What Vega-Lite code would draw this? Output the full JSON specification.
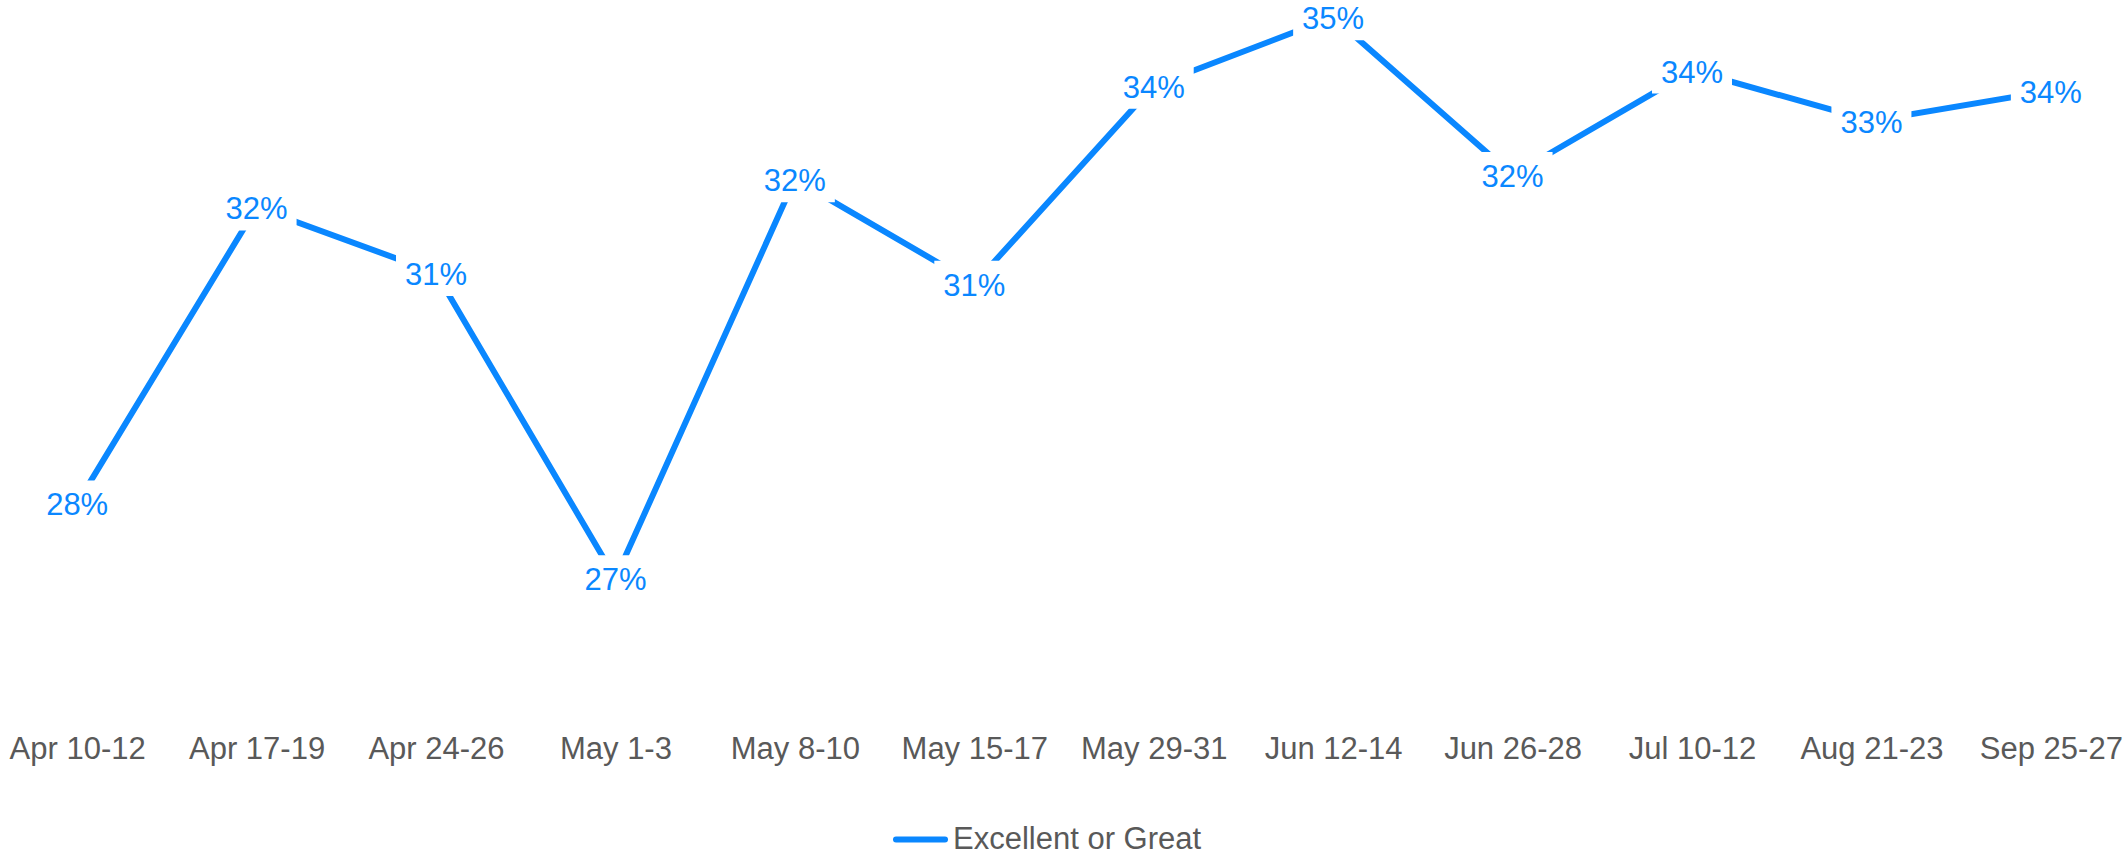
{
  "$schema": "https://vega.github.io/schema/vega-lite/v6.json",
  "width": 2128,
  "height": 700,
  "autosize": {"type": "none"},
  "padding": {"left": 0, "top": 0, "right": 0, "bottom": 151},
  "background": "white",
  "data": {
    "values": [
      {"week": "Apr 10-12", "value": 0.2787, "series": "Excellent or Great"},
      {"week": "Apr 17-19", "value": 0.3198, "series": "Excellent or Great"},
      {"week": "Apr 24-26", "value": 0.3107, "series": "Excellent or Great"},
      {"week": "May 1-3", "value": 0.2683, "series": "Excellent or Great"},
      {"week": "May 8-10", "value": 0.3237, "series": "Excellent or Great"},
      {"week": "May 15-17", "value": 0.3092, "series": "Excellent or Great"},
      {"week": "May 29-31", "value": 0.3367, "series": "Excellent or Great"},
      {"week": "Jun 12-14", "value": 0.3462, "series": "Excellent or Great"},
      {"week": "Jun 26-28", "value": 0.3243, "series": "Excellent or Great"},
      {"week": "Jul 10-12", "value": 0.3388, "series": "Excellent or Great"},
      {"week": "Aug 21-23", "value": 0.3318, "series": "Excellent or Great"},
      {"week": "Sep 25-27", "value": 0.3360, "series": "Excellent or Great"}
    ]
  },
  "encoding": {
    "x": {
      "field": "week",
      "type": "ordinal",
      "sort": null,
      "scale": {"type": "point", "padding": 0.43},
      "axis": {
        "title": null,
        "labelAngle": 0,
        "labelFont": "Liberation Sans",
        "labelFontSize": 31,
        "labelColor": "#595959",
        "labelPadding": 34,
        "domain": false,
        "ticks": false,
        "grid": false
      }
    },
    "y": {
      "field": "value",
      "type": "quantitative",
      "scale": {"domain": [0.2514, 0.3486], "nice": false, "zero": false},
      "axis": null
    }
  },
  "layer": [
    {
      "mark": {"type": "line", "strokeWidth": 6, "strokeCap": "butt"},
      "encoding": {
        "color": {
          "field": "series",
          "type": "nominal",
          "scale": {"range": ["#0A87FF"]},
          "legend": {
            "title": null,
            "orient": "none",
            "legendX": 893,
            "legendY": 812,
            "symbolType": "stroke",
            "symbolSize": 2401,
            "symbolStrokeWidth": 6,
            "labelFont": "Liberation Sans",
            "labelFontSize": 31,
            "labelColor": "#595959",
            "labelOffset": 5,
            "labelLimit": 0,
            "padding": 0,
            "encode": {"symbols": {"update": {"strokeCap": {"value": "round"}}}}
          }
        }
      }
    },
    {
      "mark": {
        "type": "point",
        "shape": "M-1.739,-1H1.739V1H-1.739Z",
        "size": 2116,
        "filled": true,
        "fill": "white",
        "opacity": 1,
        "strokeWidth": 0
      }
    },
    {
      "mark": {
        "type": "text",
        "font": "Liberation Sans",
        "fontSize": 31,
        "color": "#0A87FF",
        "baseline": "middle",
        "align": "center",
        "dy": 3
      },
      "encoding": {
        "text": {"field": "value", "type": "quantitative", "format": ".0%"}
      }
    }
  ],
  "config": {"view": {"stroke": null}}
}
